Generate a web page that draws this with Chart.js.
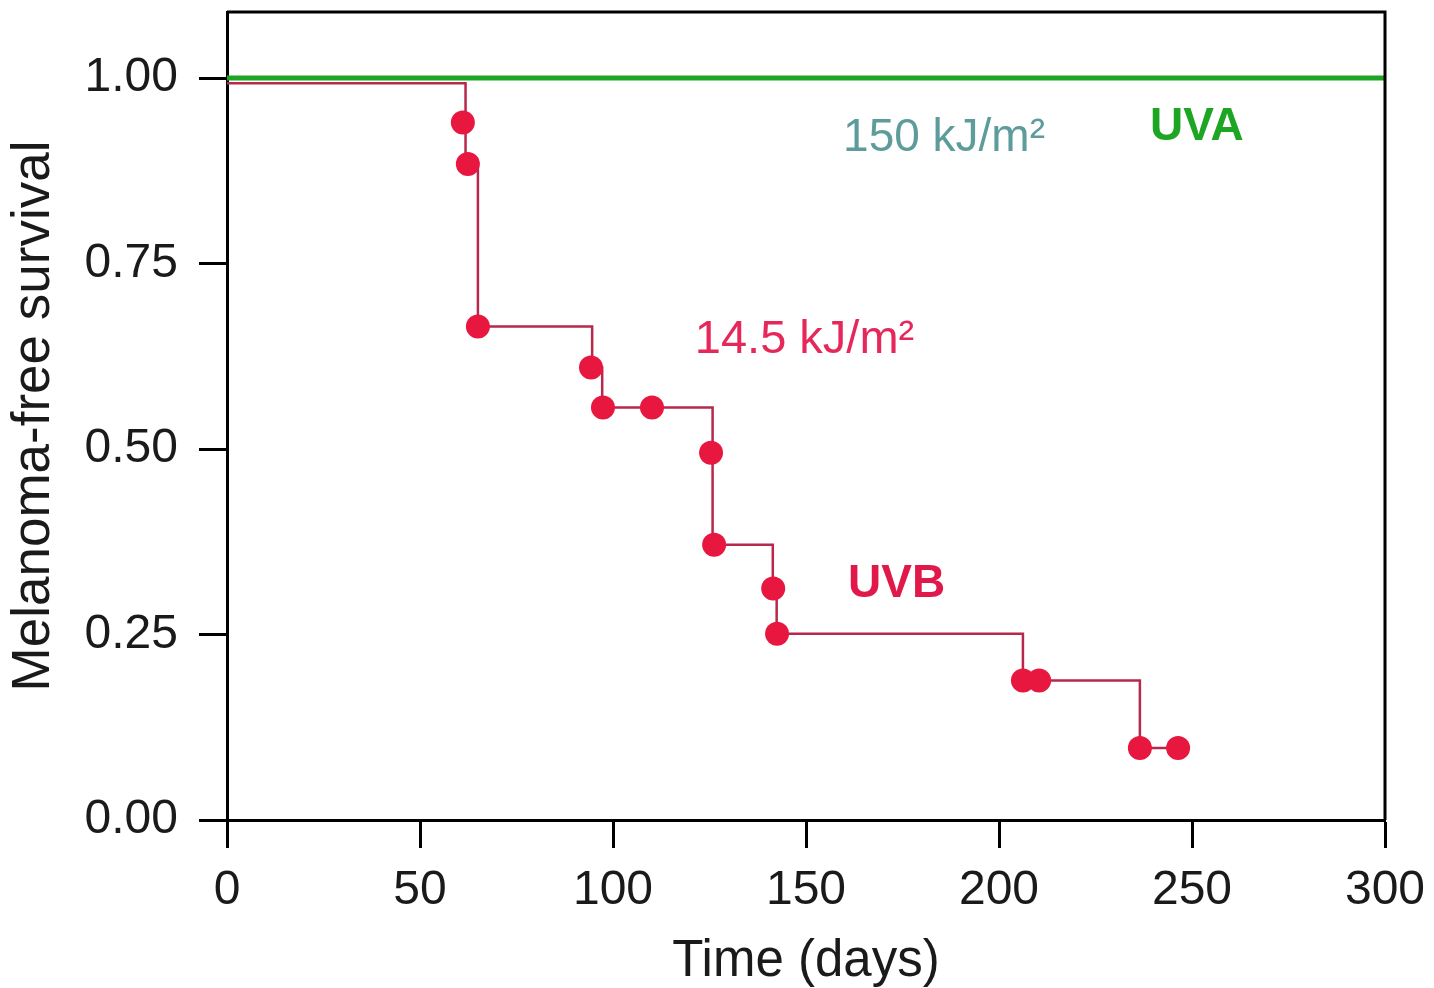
<!DOCTYPE html>
<html>
<head>
<meta charset="utf-8">
<script src="https://cdn.jsdelivr.net/npm/chart.js@4.4.1/dist/chart.umd.min.js"></script>
<style>
    html, body { margin: 0; padding: 0; background: #ffffff; }
    #wrap { width: 1434px; height: 988px; position: relative; }
</style>
</head>
<body>
<div id="wrap"><canvas id="survivalChart"></canvas></div>
<script>
// UVB censor/event markers (days, survival)
const uvbMarkDays = [61.1, 62.4, 65.0, 94.3, 97.4, 110.1, 125.4, 126.2, 141.5, 142.5, 206.2, 210.4, 236.5, 246.4];
const uvbMarkSurv = [0.940, 0.884, 0.665, 0.610, 0.556, 0.556, 0.495, 0.371, 0.312, 0.251, 0.188, 0.188, 0.097, 0.097];

// UVB step curve
const uvbStepDays = [0, 61.8, 61.8, 65.0, 65.0, 94.6, 94.6, 97.2, 97.2, 125.8, 125.8, 141.4, 141.4, 142.4, 142.4, 206.2, 206.2, 236.5, 236.5, 246.4];
const uvbStepSurv = [0.993, 0.993, 0.884, 0.884, 0.665, 0.665, 0.610, 0.610, 0.556, 0.556, 0.371, 0.371, 0.312, 0.312, 0.251, 0.251, 0.188, 0.188, 0.097, 0.097];

// UVA curve: no events
const uvaDays = [0, 300];
const uvaSurv = [1.0, 1.0];

const yTickValues = [0, 0.25, 0.5, 0.75, 1.0];

const FONT = '"Liberation Sans", Arial, Helvetica, sans-serif';

function toPoints(xs, ys) {
    return xs.map((x, i) => ({ x: x, y: ys[i] }));
}

// labels placed in data coordinates (left edge, baseline)
const annotations = [
    { text: '150 kJ/m\u00b2', day: 159.6, surv: 0.902, color: '#5e9c9c', weight: 'normal', size: 46 },
    { text: 'UVA', day: 239.1, surv: 0.917, color: '#1fa524', weight: 'bold', size: 46 },
    { text: '14.5 kJ/m\u00b2', day: 121.2, surv: 0.629, color: '#e6275a', weight: 'normal', size: 47 },
    { text: 'UVB', day: 160.9, surv: 0.301, color: '#e0194a', weight: 'bold', size: 46 }
];

const framePlugin = {
    id: 'frame',
    afterDatasetsDraw(chart) {
        const { ctx, chartArea } = chart;
        ctx.save();
        ctx.strokeStyle = '#000';
        ctx.lineWidth = 3;
        ctx.beginPath();
        ctx.moveTo(chartArea.left, chartArea.top);
        ctx.lineTo(chartArea.right, chartArea.top);
        ctx.lineTo(chartArea.right, chartArea.bottom);
        ctx.stroke();
        ctx.restore();
    }
};

const textPlugin = {
    id: 'labels',
    afterDraw(chart) {
        const { ctx, scales } = chart;
        ctx.save();
        ctx.textAlign = 'left';
        ctx.textBaseline = 'alphabetic';
        annotations.forEach(a => {
            ctx.font = a.weight + ' ' + a.size + 'px ' + FONT;
            ctx.fillStyle = a.color;
            ctx.fillText(a.text, scales.x.getPixelForValue(a.day), scales.y.getPixelForValue(a.surv));
        });
        ctx.restore();
    }
};

const ctx = document.getElementById('survivalChart');
new Chart(ctx, {
    type: 'scatter',
    data: {
        datasets: [
            {
                label: 'UVB markers',
                data: toPoints(uvbMarkDays, uvbMarkSurv),
                showLine: false,
                pointRadius: 12,
                pointBackgroundColor: '#e8173f',
                pointBorderWidth: 0,
                order: 0
            },
            {
                label: 'UVA',
                data: toPoints(uvaDays, uvaSurv),
                showLine: true,
                borderColor: '#1fa524',
                borderWidth: 5,
                pointRadius: 0,
                order: 1
            },
            {
                label: 'UVB',
                data: toPoints(uvbStepDays, uvbStepSurv),
                showLine: true,
                borderColor: '#b8284a',
                borderWidth: 2.5,
                pointRadius: 0,
                order: 2
            }
        ]
    },
    options: {
        responsive: true,
        maintainAspectRatio: false,
        animation: false,
        layout: { padding: { left: 0, top: 10, right: 49, bottom: 0 } },
        plugins: {
            legend: { display: false },
            tooltip: { enabled: false }
        },
        scales: {
            x: {
                type: 'linear',
                min: 0,
                max: 300,
                afterFit: function(scale) {
                    scale.height = 168;
                    scale.paddingLeft = 0;
                    scale.paddingRight = 0;
                },
                ticks: {
                    stepSize: 50,
                    padding: 14,
                    color: '#1a1a1a',
                    font: { family: FONT, size: 48 }
                },
                grid: { drawOnChartArea: false, tickLength: 28, tickWidth: 3, tickColor: '#000' },
                border: { color: '#000', width: 3 },
                title: {
                    display: true,
                    text: 'Time (days)',
                    color: '#1a1a1a',
                    font: { family: FONT, size: 51, lineHeight: 1.0 },
                    padding: { top: 0, bottom: 1 }
                }
            },
            y: {
                type: 'linear',
                min: 0,
                max: 1.089,
                afterFit: function(scale) {
                    scale.width = 227;
                    scale.paddingTop = 0;
                    scale.paddingBottom = 0;
                },
                afterBuildTicks: function(scale) {
                    scale.ticks = yTickValues.map(v => ({ value: v }));
                },
                ticks: {
                    padding: 21,
                    color: '#1a1a1a',
                    font: { family: FONT, size: 48 },
                    callback: function(value) { return Number(value).toFixed(2); }
                },
                grid: { drawOnChartArea: false, tickLength: 28, tickWidth: 3, tickColor: '#000' },
                border: { color: '#000', width: 3 },
                title: {
                    display: true,
                    text: 'Melanoma-free survival',
                    color: '#1a1a1a',
                    font: { family: FONT, size: 53 },
                    padding: { top: 3, bottom: 0 }
                }
            }
        }
    },
    plugins: [framePlugin, textPlugin]
});
</script>
</body>
</html>
